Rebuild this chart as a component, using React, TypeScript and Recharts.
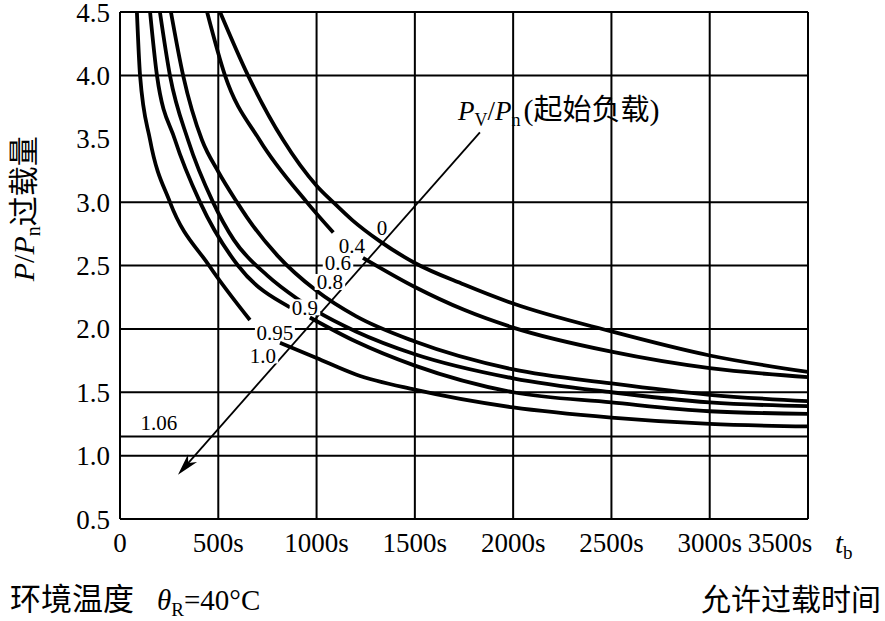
import React from 'react';
import {
  ComposedChart,
  Line,
  XAxis,
  YAxis,
  ReferenceLine,
  ReferenceDot,
  ReferenceArea,
  Label,
} from 'recharts';

const SERIF = "'Liberation Serif', 'Times New Roman', Times, 'DejaVu Serif', 'Noto Serif', serif";
const CJK = "'Noto Sans CJK SC', sans-serif";

const xTicks = [0, 500, 1000, 1500, 2000, 2500, 3000, 3500];
const yTicks = [0.5, 1.0, 1.5, 2.0, 2.5, 3.0, 3.5, 4.0, 4.5];
const xGrid = [500, 1000, 1500, 2000, 2500, 3000, 3500];
const yGrid = [1.0, 1.15, 1.5, 2.0, 2.5, 3.0, 4.0, 4.5];

// curves, [t in s, P/Pn]; null = gap where a label sits
const curveF = [[509, 4.5], [651, 4.0], [830, 3.49], [1000, 3.13], [1084, 3.0], [1180, 2.86], [1323, 2.69], [1500, 2.52], [1750, 2.35], [2000, 2.2], [2500, 1.98], [3000, 1.79], [3500, 1.66]];
const curveE = [[443, 4.5], [534, 4.0], [710, 3.49], [950, 3.0], [1085, 2.76], [1160, null], [1236, 2.56], [1500, 2.33], [1750, 2.15], [2000, 2.01], [2500, 1.82], [3000, 1.69], [3500, 1.62]];
const curveD = [[259, 4.5], [321, 4.0], [417, 3.49], [500, 3.24], [595, 3.0], [646, 2.88], [800, 2.58], [1000, 2.3], [1200, 2.1], [1500, 1.9], [2000, 1.68], [2500, 1.57], [3000, 1.48], [3500, 1.43]];
const curveC = [[203, 4.5], [254, 4.0], [346, 3.49], [473, 3.0], [580, 2.7], [750, 2.42], [900, 2.24], [1000, 2.14], [1200, 1.98], [1500, 1.8], [2000, 1.61], [2500, 1.5], [3000, 1.42], [3500, 1.39]];
const curveB = [[153, 4.5], [188, 4.0], [280, 3.49], [407, 3.0], [600, 2.5], [865, 2.17], [915, null], [966, 2.09], [1200, 1.9], [1500, 1.71], [2000, 1.5], [2500, 1.42], [3000, 1.35], [3500, 1.33]];
const curveA = [[86, 4.5], [102, 4.0], [153, 3.49], [254, 3.0], [453, 2.5], [661, 2.07], [740, null], [814, 1.89], [1000, 1.77], [1200, 1.64], [1500, 1.52], [2000, 1.38], [2500, 1.3], [3000, 1.25], [3500, 1.23]];

const curves = [curveF, curveE, curveD, curveC, curveB, curveA];

const curveLabels = ['0', '0.4', '0.6', '0.8', '0.9', '0.95', '1.0', '1.06'];
const labelX = [1333, 1180, 1109, 1068, 941, 788, 727, 198];
const labelY = [2.8, 2.66, 2.52, 2.37, 2.17, 1.97, 1.79, 1.26];

const arrowFrom = { x: 1831, y: 3.55 };
const arrowTo = { x: 295, y: 0.85 };
const titleAnchor = { x: 1719, y: 3.65 };

const toPoints = (arr: (number | null)[][]) => arr.map(([x, y]) => ({ x, y }));

const CurveLabel = ({ cx, cy, text }: any) => {
  const w = text.length * 9.5 + 2;
  return (
    <g>
      <rect x={cx - w / 2} y={cy - 8} width={w} height={16} fill="#fff" />
      <text x={cx} y={cy} dy="0.35em" textAnchor="middle" fontSize={21} fill="#000" style={{ fontFamily: SERIF }}>
        {text}
      </text>
    </g>
  );
};

const Arrow = ({ x1, y1, x2, y2 }: any) => {
  const ang = Math.atan2(y2 - y1, x2 - x1);
  const len = 22;
  const half = 6;
  const cos = Math.cos(ang);
  const sin = Math.sin(ang);
  const bx = x2 - len * cos;
  const by = y2 - len * sin;
  const nx = x2 - len * 0.7 * cos;
  const ny = y2 - len * 0.7 * sin;
  const px = -sin * half;
  const py = cos * half;
  return (
    <g>
      <line x1={x1} y1={y1} x2={nx} y2={ny} stroke="#000" strokeWidth={1.8} />
      <polygon points={`${x2},${y2} ${bx + px},${by + py} ${nx},${ny} ${bx - px},${by - py}`} fill="#000" />
    </g>
  );
};

const Title = ({ cx, cy }: any) => (
  <text x={cx} y={cy} fontSize={27} fill="#000" style={{ fontFamily: SERIF }}>
    <tspan fontStyle="italic">P</tspan>
    <tspan fontSize={18} dy={6}>V</tspan>
    <tspan dy={-6}>/</tspan>
    <tspan fontStyle="italic">P</tspan>
    <tspan fontSize={18} dy={6}>n</tspan>
    <tspan dy={-6} dx={3} fontSize={30}>(</tspan>
    <tspan style={{ fontFamily: CJK }} fontSize={29}>起始负载</tspan>
    <tspan fontSize={30}>)</tspan>
  </text>
);

const YTitle = (props: any) => {
  const vb = props.viewBox;
  const bx = vb.x + 24;
  const by = vb.y + vb.height * 0.388;
  return (
    <text transform={`translate(${bx}, ${by}) rotate(-90)`} x={0} y={0} textAnchor="middle" fontSize={30} fill="#000" style={{ fontFamily: SERIF }}>
      <tspan fontStyle="italic">P</tspan>
      <tspan>/</tspan>
      <tspan fontStyle="italic">P</tspan>
      <tspan fontSize={20} dy={6}>n</tspan>
      <tspan dy={-6} style={{ fontFamily: CJK }}>过载量</tspan>
    </text>
  );
};

const XTitle = (props: any) => {
  const vb = props.viewBox;
  const right = vb.x + vb.width;
  return (
    <g fill="#000" style={{ fontFamily: SERIF }}>
      <text x={right + 27} y={vb.y + 34} fontSize={29}>
        <tspan fontStyle="italic">t</tspan>
        <tspan fontSize={19} dy={6}>b</tspan>
      </text>
      <text x={10} y={vb.y + 91} fontSize={29}>
        <tspan style={{ fontFamily: CJK }} fontSize={31}>环境温度</tspan>
        <tspan x={157} fontStyle="italic">θ</tspan>
        <tspan fontSize={19} dy={6}>R</tspan>
        <tspan dy={-6}>=40°C</tspan>
      </text>
      <text x={881} y={vb.y + 91} textAnchor="end" fontSize={30} style={{ fontFamily: CJK }}>
        允许过载时间
      </text>
    </g>
  );
};

// last label sits left of the frame corner, as in the original
const XTick = ({ x, y, payload }: any) => {
  const v = payload.value;
  const shift = v === xTicks[xTicks.length - 1] ? -28 : 0;
  return (
    <text x={x + shift} y={y} dy="0.71em" textAnchor="middle" fontSize={27} fill="#000" style={{ fontFamily: SERIF }}>
      {v === 0 ? '0' : `${v}s`}
    </text>
  );
};

const tickStyle = { fill: '#000', fontSize: 27, style: { fontFamily: SERIF } };

export default function App() {
  return (
    <div style={{ position: 'absolute', left: 0, top: 0, width: 885, height: 621, background: '#fff', fontFamily: SERIF }}>
      <ComposedChart width={885} height={621} margin={{ top: 12, right: 77, bottom: 62, left: 10 }}>
        <XAxis
          type="number"
          dataKey="x"
          domain={[0, 3500]}
          ticks={xTicks}
          interval={0}
          allowDataOverflow
          height={40}
          tickLine={false}
          tickMargin={8}
          axisLine={{ stroke: '#000', strokeWidth: 2 }}
          tick={<XTick />}
        >
          <Label content={XTitle} />
        </XAxis>
        <YAxis
          type="number"
          domain={[0.5, 4.5]}
          ticks={yTicks}
          interval={0}
          allowDataOverflow
          width={110}
          tickLine={false}
          tickMargin={4}
          axisLine={{ stroke: '#000', strokeWidth: 2 }}
          tick={tickStyle}
          tickFormatter={(v: number) => v.toFixed(1)}
        >
          <Label content={YTitle} />
        </YAxis>
        {yGrid.map((v) => (
          <ReferenceLine key={`gy${v}`} y={v} stroke="#000" strokeWidth={2} />
        ))}
        {xGrid.map((v) => (
          <ReferenceLine key={`gx${v}`} x={v} stroke="#000" strokeWidth={2} />
        ))}
        <ReferenceArea x1={1700} x2={2850} y1={3.5} y2={3.92} fill="#fff" fillOpacity={1} stroke="none" />
        {curves.map((c, i) => (
          <Line
            key={`c${i}`}
            data={toPoints(c)}
            dataKey="y"
            type="monotone"
            stroke="#000"
            strokeWidth={3.8}
            dot={false}
            activeDot={false}
            connectNulls={false}
            isAnimationActive={false}
          />
        ))}
        {curveLabels.map((t, i) => (
          <ReferenceDot
            key={`l${t}`}
            x={labelX[i]}
            y={labelY[i]}
            r={1}
            ifOverflow="visible"
            shape={(p: any) => <CurveLabel cx={p.cx} cy={p.cy} text={t} />}
          />
        ))}
        <ReferenceDot
          x={titleAnchor.x}
          y={titleAnchor.y}
          r={1}
          ifOverflow="visible"
          shape={(p: any) => <Title cx={p.cx} cy={p.cy} />}
        />
        <ReferenceLine
          segment={[arrowFrom, arrowTo]}
          ifOverflow="visible"
          shape={(p: any) => <Arrow x1={p.x1} y1={p.y1} x2={p.x2} y2={p.y2} />}
        />
      </ComposedChart>
    </div>
  );
}
